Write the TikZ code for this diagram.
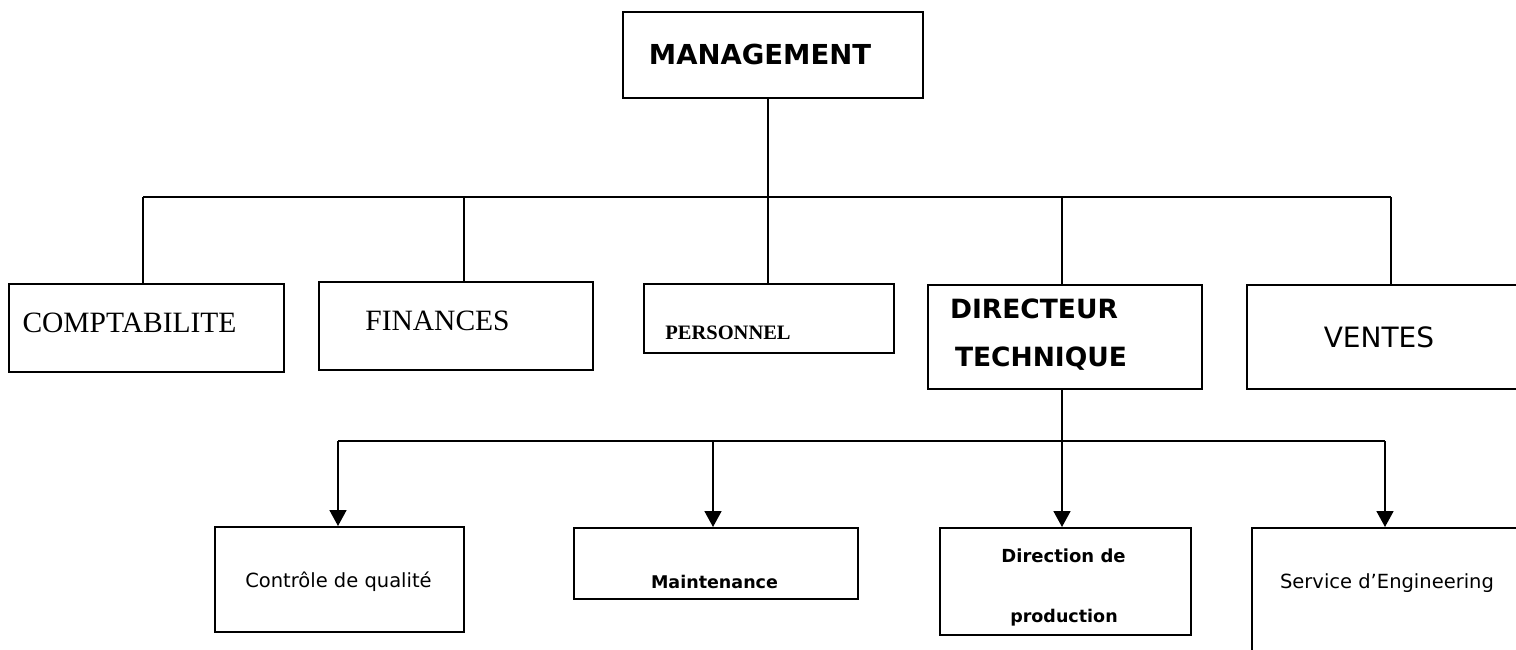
\documentclass[tikz,border=0pt]{standalone}
\usepackage{fontspec}
\setmainfont{Liberation Serif}
\newfontfamily\comic{DejaVu Sans}
\usetikzlibrary{arrows.meta}
\begin{document}
\begin{tikzpicture}[x=1pt,y=-1pt,
  box/.style={draw=black,line width=1.8pt,inner sep=0pt,anchor=north west,fill=white},
  conn/.style={draw=black,line width=1.7pt},
  arr/.style={conn,-{Triangle[width=17pt,length=16pt]}},
  lbl/.style={anchor=base,inner sep=0pt,text=black}]
\useasboundingbox (0,0) rectangle (1516,650);
\clip (0,0) rectangle (1516,650);
\fill[white] (0,0) rectangle (1516,650);
% boxes
\node[box,minimum width=300pt,minimum height=86pt] (mgmt) at (622,11) {};
\node[box,minimum width=275pt,minimum height=88pt] (compt) at (8,283) {};
\node[box,minimum width=274pt,minimum height=88pt] (fin) at (318,281) {};
\node[box,minimum width=250pt,minimum height=69pt] (pers) at (643,283) {};
\node[box,minimum width=274pt,minimum height=104pt] (dir) at (927,284) {};
\node[box,minimum width=290pt,minimum height=104pt] (ventes) at (1246,284) {};
\node[box,minimum width=249pt,minimum height=105pt] (ctrl) at (214,526) {};
\node[box,minimum width=284pt,minimum height=71pt] (maint) at (573,527) {};
\node[box,minimum width=251pt,minimum height=107pt] (dprod) at (939,527) {};
\node[box,minimum width=290pt,minimum height=150pt] (serv) at (1251,527) {};
% labels
\node[lbl,font=\comic\bfseries\fontsize{27.5}{30}\selectfont] (tmgmt) at (760,65) {MANAGEMENT};
\node[lbl,font=\fontsize{29.5}{32}\selectfont] (tcompt) at (129.5,332) {COMPTABILITE};
\node[lbl,font=\fontsize{29.5}{32}\selectfont] (tfin) at (437.5,330) {FINANCES};
\node[lbl,font=\bfseries\fontsize{20.5}{23}\selectfont] (tpers) at (728,339) {PERSONNEL};
\node[lbl,font=\comic\bfseries\fontsize{26.5}{30}\selectfont] (tdir1) at (1034,318) {DIRECTEUR};
\node[lbl,font=\comic\bfseries\fontsize{26.5}{30}\selectfont] (tdir2) at (1041,366) {TECHNIQUE};
\node[lbl,font=\comic\fontsize{28}{30}\selectfont] (tventes) at (1379,347) {VENTES};
\node[lbl,font=\comic\fontsize{19.5}{22}\selectfont] (tctrl) at (338.5,587) {Contrôle de qualité};
\node[lbl,font=\comic\bfseries\fontsize{17.5}{20}\selectfont] (tmaint) at (714.5,588) {Maintenance};
\node[lbl,font=\comic\bfseries\fontsize{18}{20}\selectfont] (tdprod1) at (1063.5,562) {Direction de};
\node[lbl,font=\comic\bfseries\fontsize{17.5}{20}\selectfont] (tdprod2) at (1064,622) {production};
\node[lbl,font=\comic\fontsize{19.5}{22}\selectfont] (tserv) at (1387,588) {Service d’Engineering};
% upper bus
\coordinate (b1) at (143,197);
\coordinate (b2) at (464,197);
\coordinate (b3) at (768,197);
\coordinate (b4) at (1062,197);
\coordinate (b5) at (1391,197);
\draw[conn] (b1) -- (b5);
\draw[conn] (mgmt.south -| b3) -- (b3 |- pers.north);
\draw[conn] (b1) -- (b1 |- compt.north);
\draw[conn] (b2) -- (b2 |- fin.north);
\draw[conn] (b4) -- (b4 |- dir.north);
\draw[conn] (b5) -- (b5 |- ventes.north);
% lower bus
\coordinate (c1) at (338,441);
\coordinate (c2) at (713,441);
\coordinate (c3) at (1062,441);
\coordinate (c4) at (1385,441);
\draw[conn] (c1) -- (c4);
\draw[arr] (dir.south -| c3) -- (c3 |- dprod.north);
\draw[arr] (c1) -- (c1 |- ctrl.north);
\draw[arr] (c2) -- (c2 |- maint.north);
\draw[arr] (c4) -- (c4 |- serv.north);
\end{tikzpicture}
\end{document}
